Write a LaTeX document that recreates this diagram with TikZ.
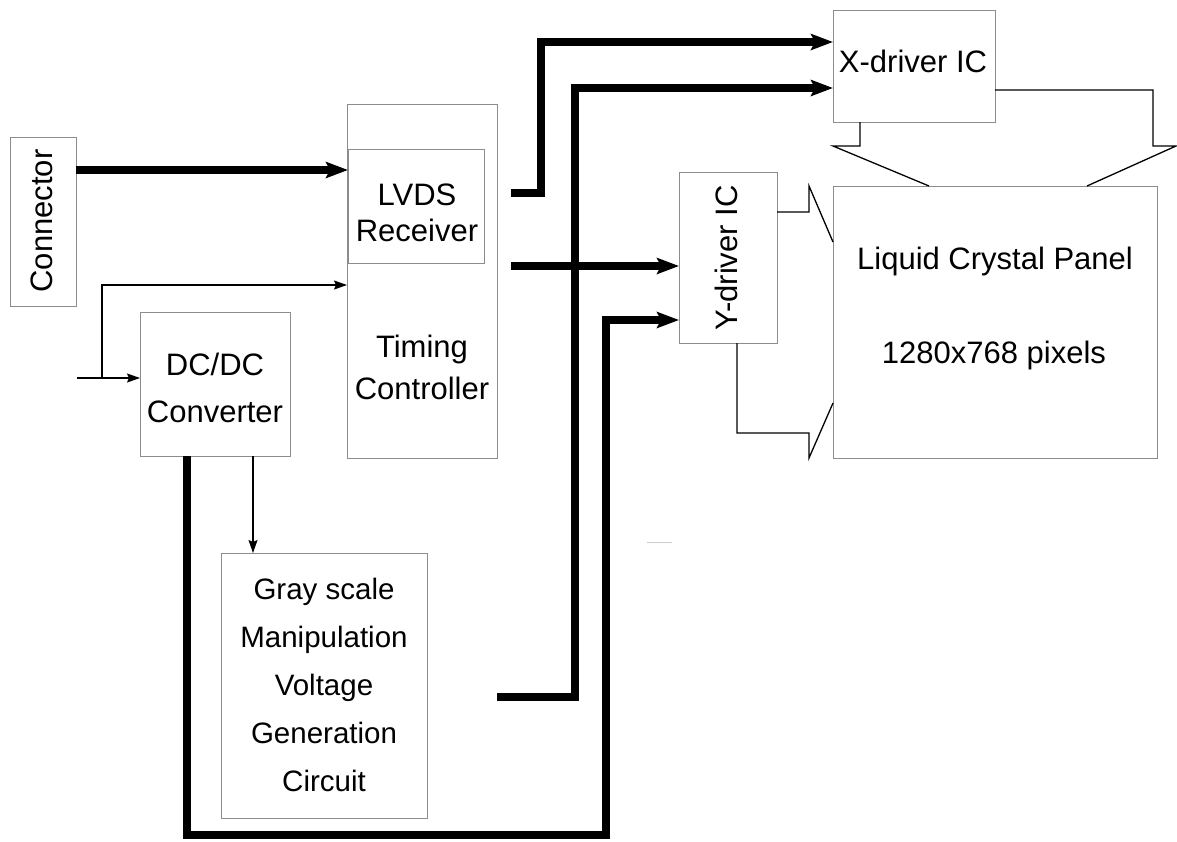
\documentclass[tikz,border=0pt]{standalone}
\usepackage{fontspec}
\setmainfont{Liberation Sans}
\usetikzlibrary{arrows.meta}
\definecolor{boxgray}{HTML}{8C8C8C}
\begin{document}
\begin{tikzpicture}[x=1pt,y=-1pt,
  box/.style={draw=boxgray, line width=1.3pt, inner sep=0pt, anchor=north west},
  lbl/.style={font=\fontsize{31}{36}\selectfont, inner sep=0pt, anchor=base},
  glbl/.style={font=\fontsize{29.5}{36}\selectfont, inner sep=0pt, anchor=base},
  thickarrow/.style={line width=7.5pt, -{Stealth[length=22pt,width=16pt,inset=4pt]}},
  thinarrow/.style={line width=1.3pt, -{Stealth[length=13pt,width=9pt,inset=2pt]}},
  thinline/.style={line width=1.3pt}]
\useasboundingbox (0,0) rectangle (1177,841);
% boxes
\node[box, minimum width=66pt,  minimum height=169pt] (conn)  at (10,137) {};
\node[box, minimum width=150pt, minimum height=354pt] (timing) at (347,104) {};
\node[box, minimum width=136pt, minimum height=114pt] (lvds)  at (348,149) {};
\node[box, minimum width=150pt, minimum height=144pt] (dcdc)  at (140,312) {};
\node[box, minimum width=206pt, minimum height=265pt] (gray)  at (221,553) {};
\node[box, minimum width=162pt, minimum height=112pt] (xdrv)  at (833,10) {};
\node[box, minimum width=98pt,  minimum height=171pt] (ydrv)  at (679,172) {};
\node[box, minimum width=324pt, minimum height=272pt] (panel) at (833,186) {};
% labels
\node[lbl, rotate=90] (conntxt) at (52,221) {Connector};
\node[lbl] (lvds1) at (417,205) {LVDS};
\node[lbl] (lvds2) at (417,241) {Receiver};
\node[lbl] (tim1) at (422,357) {Timing};
\node[lbl] (tim2) at (422,399) {Controller};
\node[lbl] (dc1) at (215,375) {DC/DC};
\node[lbl] (dc2) at (215,422) {Converter};
\node[glbl] (gr1) at (324,599) {Gray scale};
\node[glbl] (gr2) at (324,647) {Manipulation};
\node[glbl] (gr3) at (324,695) {Voltage};
\node[glbl] (gr4) at (324,743) {Generation};
\node[glbl] (gr5) at (324,791) {Circuit};
\node[lbl] (xtxt) at (913,72) {X-driver IC};
\node[lbl, rotate=90] (ytxt) at (737,258) {Y-driver IC};
\node[lbl] (pan1) at (995,269) {Liquid Crystal Panel};
\node[lbl] (pan2) at (994,363) {1280x768 pixels};
% coordinates
\coordinate (c1) at (76,170);
\coordinate (l1) at (348,170);
\coordinate (s1) at (511,193);
\coordinate (x1) at (833,42);
\coordinate (g1) at (497,697);
\coordinate (x2) at (833,88);
\coordinate (t1) at (511,266);
\coordinate (y1) at (679,266);
\coordinate (d1) at (187,456);
\coordinate (y2) at (679,320);
\coordinate (in) at (77,378);
\coordinate (br) at (102,378);
\coordinate (dcin) at (140,378);
\coordinate (tm) at (347,285);
\coordinate (d2) at (253,456);
\coordinate (gtop) at (253,553);
% thick connectors
\draw[thickarrow] (c1) -- (l1);
\draw[thickarrow] (s1) -- (541,193) |- (x1);
\draw[thickarrow] (g1) -- (575,697) |- (x2);
\draw[thickarrow] (t1) -- (y1);
\draw[thickarrow] (d1) -- (187,835) -- (606,835) |- (y2);
% thin connectors
\draw[thinarrow] (in) -- (dcin);
\draw[thinarrow] (br) |- (tm);
\draw[thinarrow] (d2) -- (gtop);
% driver output outlines
\draw[thinline] (860,122) -- (860,146) -- (833,146) -- (929,186);
\draw[thinline] (995,90) -- (1153,90) -- (1153,146) -- (1176,146) -- (1087,186);
\draw[thinline] (777,212) -- (809,212) -- (809,186) -- (833,242);
\draw[thinline] (737,343) -- (737,433) -- (809,433) -- (809,458) -- (833,403);
% faint mark
\draw[gray!40, line width=0.8pt] (647,542) -- (672,542);
\end{tikzpicture}
\end{document}
